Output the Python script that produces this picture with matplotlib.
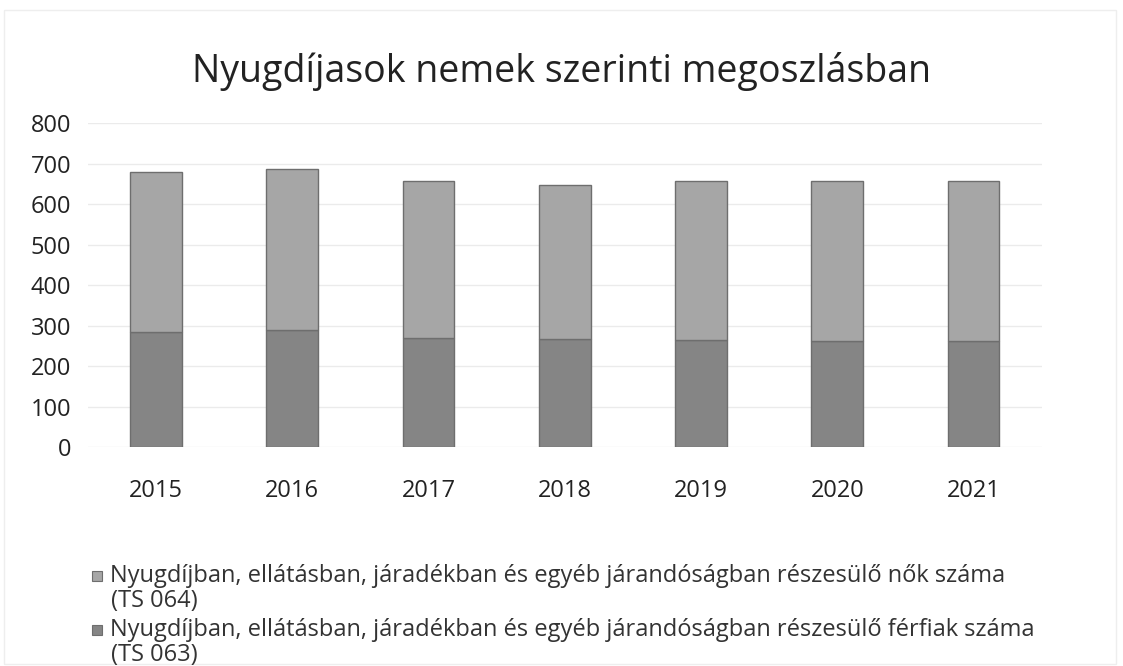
import matplotlib.pyplot as plt
from matplotlib.patches import Rectangle

years = ["2015", "2016", "2017", "2018", "2019", "2020", "2021"]
ferfiak = [284, 290, 271, 268, 265, 263, 263]
nok = [396, 398, 388, 379, 392, 396, 394]

label_nok = ["Nyugdíjban, ellátásban, járadékban és egyéb járandóságban részesülő nők száma",
             "(TS 064)"]
label_ferfiak = ["Nyugdíjban, ellátásban, járadékban és egyéb járandóságban részesülő férfiak száma",
                 "(TS 063)"]

col_nok = "#a6a6a6"
col_ferfiak = "#858585"
edge = "#6e6e6e"

plt.rcParams['font.family'] = ['Open Sans', 'DejaVu Sans']

fig = plt.figure(figsize=(11.23, 6.66), dpi=100)
ax = fig.add_axes([0.0784, 0.3284, 0.8491, 0.4862])

x = list(range(len(years)))
ax.bar(x, ferfiak, width=0.38, color=col_ferfiak, edgecolor=edge, linewidth=1, zorder=3)
ax.bar(x, nok, width=0.38, bottom=ferfiak, color=col_nok, edgecolor=edge, linewidth=1, zorder=3)

ax.set_xlim(-0.5, len(years) - 0.5)
ax.set_ylim(0, 800)
ax.set_yticks(range(0, 801, 100))
ax.set_xticks(x)
ax.set_xticklabels(years)
ax.yaxis.grid(True, color="#ebebeb", linewidth=1, zorder=0)
ax.tick_params(axis="both", length=0, colors="#222222", labelsize=17)
ax.tick_params(axis="x", pad=23)
ax.tick_params(axis="y", pad=12)
for s in ax.spines.values():
    s.set_visible(False)

fig.text(0.5, 0.893, "Nyugdíjasok nemek szerinti megoszlásban", ha="center", va="center",
         fontsize=27, color="#222222")

# legend, drawn by hand so the square sits on the first line
W, H = 1123, 666
entries = [(label_nok, col_nok, 576), (label_ferfiak, col_ferfiak, 630)]
for lines, col, y0 in entries:
    fig.patches.append(Rectangle((92 / W, 1 - (y0 + 5) / H), 10 / W, 10 / H,
                                 transform=fig.transFigure, facecolor=col, edgecolor=edge,
                                 linewidth=0.8))
    fig.text(110 / W, 1 - y0 / H, lines[0], ha="left", va="center", fontsize=17,
             color="#333333")
    fig.text(111 / W, 1 - (y0 + 25) / H, lines[1], ha="left", va="center", fontsize=17,
             color="#333333")

fig.patches.append(Rectangle((0.004, 0.003), 0.99, 0.982, transform=fig.transFigure,
                             fill=False, edgecolor="#eeeeee", linewidth=1))

fig.savefig("out.png", dpi=100)
